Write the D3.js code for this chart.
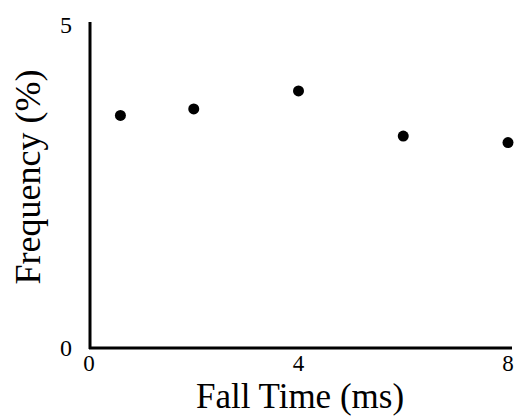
<!DOCTYPE html>
<html>
<head>
<meta charset="utf-8">
<script src="https://cdn.jsdelivr.net/npm/d3@7"></script>
<style>
  body { margin: 0; background: #fff; }
  text { font-family: "Liberation Serif", "Times New Roman", serif; fill: #000; }
</style>
</head>
<body>
<div id="chart"></div>
<script>
// fall time (ms) vs frequency (%)
var fallTime = [0.6, 2, 4, 6, 8];
var frequency = [3.6, 3.7, 3.98, 3.28, 3.18];
var xTicks = [0, 4, 8];
var yTicks = [0, 5];

var w = 515, h = 416;

var svg = d3.select("#chart").append("svg")
    .attr("width", w)
    .attr("height", h);

var x = d3.scaleLinear().domain([0, 8]).range([89, 508]);
var y = d3.scaleLinear().domain([0, 5]).range([348, 25]);

// axis lines
svg.append("line")
    .attr("x1", 90).attr("x2", 90)
    .attr("y1", 22).attr("y2", 349)
    .attr("stroke", "#000").attr("stroke-width", 3);
svg.append("line")
    .attr("x1", 89).attr("x2", 512)
    .attr("y1", 348).attr("y2", 348)
    .attr("stroke", "#000").attr("stroke-width", 3);

// tick labels
svg.selectAll("text.xt")
    .data(xTicks)
    .enter().append("text")
    .attr("class", "xt")
    .attr("x", function(d) { return x(d); })
    .attr("y", 371)
    .attr("text-anchor", "middle")
    .style("font-size", "23px")
    .text(function(d) { return d; });

svg.selectAll("text.yt")
    .data(yTicks)
    .enter().append("text")
    .attr("class", "yt")
    .attr("x", 66)
    .attr("y", function(d) { return y(d) + 8; })
    .attr("text-anchor", "middle")
    .style("font-size", "24px")
    .text(function(d) { return d; });

// axis titles
svg.append("text")
    .attr("x", 300)
    .attr("y", 408)
    .attr("text-anchor", "middle")
    .style("font-size", "35px")
    .text("Fall Time (ms)");

svg.append("text")
    .attr("transform", "translate(40,177) rotate(-90)")
    .attr("text-anchor", "middle")
    .style("font-size", "36px")
    .text("Frequency (%)");

// points
svg.selectAll("circle")
    .data(fallTime)
    .enter().append("circle")
    .attr("cx", function(d) { return x(d); })
    .attr("cy", function(d, i) { return y(frequency[i]); })
    .attr("r", 5.5)
    .attr("fill", "#000");
</script>
</body>
</html>
